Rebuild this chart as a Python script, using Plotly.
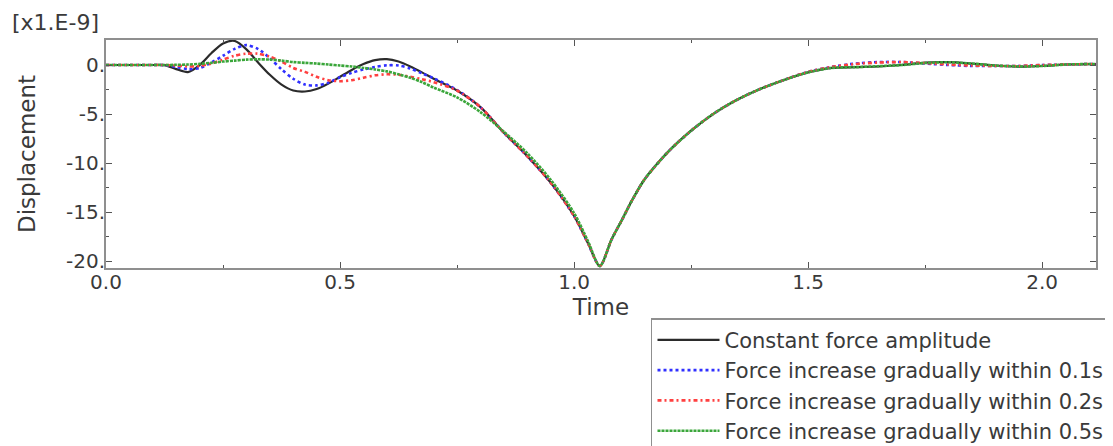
import plotly.graph_objects as go

# Time samples (s)
time = [0.0, 0.05, 0.1, 0.125, 0.15, 0.175, 0.2, 0.225, 0.25, 0.275, 0.3, 0.325, 0.35, 0.375,
        0.4, 0.425, 0.45, 0.475, 0.5, 0.525, 0.55, 0.575, 0.6, 0.625, 0.65, 0.675, 0.7, 0.75,
        0.8, 0.85, 0.9, 0.95, 1.0, 1.03, 1.055, 1.08, 1.1, 1.125, 1.15, 1.2, 1.25, 1.3, 1.35,
        1.4, 1.45, 1.5, 1.55, 1.6, 1.65, 1.7, 1.75, 1.8, 1.85, 1.9, 1.95, 2.0, 2.05, 2.1, 2.115]

# Displacement values (x1e-9)
constant_force = [0, 0, 0, -0.02, -0.42, -0.72, 0.0, 1.2, 2.2, 2.45, 1.6, 0.25, -1.0, -2.0,
                  -2.6, -2.7, -2.45, -1.9, -1.2, -0.5, 0.1, 0.5, 0.6, 0.35, -0.15, -0.75, -1.4, -2.6,
                  -4.3, -6.9, -9.3, -12.0, -15.4, -18.2, -20.5, -17.8, -16.0, -13.7, -11.7, -8.9, -6.7, -4.9, -3.5,
                  -2.4, -1.5, -0.75, -0.3, -0.22, -0.15, 0.0, 0.25, 0.3, 0.15, -0.05, -0.17, -0.1, 0.05, 0.1, 0.1]

ramp_01s = [0, 0, 0, -0.02, -0.2, -0.42, -0.3, 0.25, 0.95, 1.65, 2.03, 1.63, 0.69, -0.44,
            -1.4, -2.0, -2.08, -1.8, -1.25, -0.8, -0.45, -0.2, -0.03, -0.05, -0.35, -0.85, -1.35, -2.55,
            -4.3, -6.9, -9.3, -12.0, -15.4, -18.2, -20.5, -17.8, -16.0, -13.7, -11.7, -8.9, -6.7, -4.9, -3.5,
            -2.4, -1.5, -0.7, -0.2, 0.15, 0.3, 0.3, 0.15, 0.0, -0.1, -0.1, -0.1, 0.0, 0.05, 0.1, 0.1]

ramp_02s = [0, 0, 0, 0, -0.05, -0.15, -0.1, 0.15, 0.55, 0.95, 1.15, 1.15, 0.85, 0.35,
            -0.3, -0.7, -1.2, -1.55, -1.65, -1.55, -1.3, -1.05, -0.95, -1.0, -1.2, -1.45, -1.75, -2.6,
            -4.3, -6.9, -9.3, -12.0, -15.4, -18.2, -20.5, -17.8, -16.0, -13.7, -11.7, -8.9, -6.7, -4.9, -3.5,
            -2.4, -1.5, -0.7, -0.2, 0.1, 0.25, 0.3, 0.2, 0.05, -0.05, -0.1, -0.1, 0.0, 0.05, 0.1, 0.1]

ramp_05s = [0, 0, 0, 0, 0.02, 0.05, 0.12, 0.22, 0.35, 0.45, 0.55, 0.58, 0.55, 0.45,
            0.3, 0.22, 0.15, 0.05, -0.05, -0.15, -0.3, -0.45, -0.65, -0.95, -1.3, -1.75, -2.3, -3.3,
            -4.8, -6.8, -9.0, -11.7, -15.1, -18.0, -20.5, -17.8, -16.0, -13.7, -11.7, -8.9, -6.7, -4.9, -3.5,
            -2.4, -1.5, -0.75, -0.3, -0.22, -0.12, 0.0, 0.2, 0.28, 0.15, -0.05, -0.15, -0.1, 0.05, 0.1, 0.1]

series_names = ["Constant force amplitude",
                "Force increase gradually within 0.1s",
                "Force increase gradually within 0.2s",
                "Force increase gradually within 0.5s"]

x_tickvals = [0.0, 0.5, 1.0, 1.5, 2.0]
x_ticktext = ["0.0", "0.5", "1.0", "1.5", "2.0"]
y_tickvals = [0, -5, -10, -15, -20]
y_ticktext = ["0.", "-5.", "-10.", "-15.", "-20."]

FONT = "DejaVu Sans"

styles = [
    dict(color="#2b2b2b", width=2.2, dash="solid"),
    dict(color="#3030ff", width=2.6, dash="dot"),
    dict(color="#ff4040", width=2.6, dash="4px,3px,2px,3px"),
    dict(color="#3aa63a", width=2.6, dash="3px,1px"),
]
data = [constant_force, ramp_01s, ramp_02s, ramp_05s]

fig = go.Figure()
for name, ys, st in zip(series_names, data, styles):
    fig.add_trace(go.Scatter(x=time, y=ys, mode="lines", name=name,
                             line=dict(color=st["color"], width=st["width"], dash=st["dash"],
                                       shape="spline", smoothing=0.8)))

axis_common = dict(showgrid=False, zeroline=False, showline=True, linecolor="#8f8f8f",
                   linewidth=2, mirror="ticks", ticks="inside", ticklen=6, tickwidth=1.2,
                   tickcolor="#555555", automargin=False, ticklabelstandoff=-5,
                   tickfont=dict(family=FONT, size=20, color="#3a3a3a"))

fig.update_xaxes(range=[0, 2.115], tickvals=x_tickvals, ticktext=x_ticktext,
                 minor=dict(dtick=0.25, ticks="inside", ticklen=3, tickcolor="#555555"),
                 title=dict(text="Time", font=dict(family=FONT, size=23, color="#3a3a3a"), standoff=0),
                 **axis_common)
fig.update_yaxes(range=[-20.7, 2.55], tickvals=y_tickvals, ticktext=y_ticktext,
                 minor=dict(dtick=2.5, ticks="inside", ticklen=3, tickcolor="#555555"),
                 title=dict(text="Displacement", font=dict(family=FONT, size=23, color="#3a3a3a"), standoff=24),
                 **axis_common)

fig.add_annotation(text="[x1.E-9]", xref="paper", yref="paper", x=-0.097, y=1.075,
                   xanchor="left", yanchor="middle", showarrow=False,
                   font=dict(family=FONT, size=22, color="#3a3a3a"))

# The page body adds an 8px margin, so the figure is 8px smaller than the window.
fig.update_layout(
    width=1105, height=438,
    margin=dict(l=98, r=17, t=32, b=178, autoexpand=False),
    plot_bgcolor="white", paper_bgcolor="white",
    showlegend=True,
    legend=dict(x=0.5505, y=-0.22, xanchor="left", yanchor="top",
                bgcolor="white", bordercolor="#8f8f8f", borderwidth=1.5,
                font=dict(family=FONT, size=21, color="#3a3a3a"),
                itemwidth=62),
)

fig.write_html("out.html")
